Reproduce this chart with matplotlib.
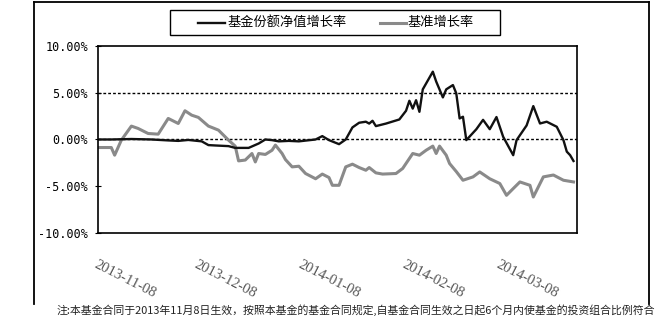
import matplotlib
matplotlib.use('Agg')
import matplotlib.pyplot as plt
from matplotlib.lines import Line2D
from matplotlib.patches import Rectangle
import pandas as pd

plt.rcParams['font.family'] = ['Noto Sans CJK SC', 'DejaVu Sans']
plt.rcParams['axes.unicode_minus'] = False

# 数据: 自 2013-11-08 起的天数, 以及两条增长率曲线 (%)
start = pd.Timestamp('2013-11-08')
end = pd.Timestamp('2014-03-31')

fund_days = [0, 4, 10, 16, 21, 24, 27, 31, 33, 35, 39, 41, 45, 48, 50, 52, 54, 57,
             60, 65, 67, 69, 72, 74, 76, 78, 80, 81, 82, 83, 86, 90, 92, 93, 94, 95,
             96, 97, 100, 101, 103, 104, 106, 107, 108, 109, 110, 113, 115, 117, 119,
             121, 124, 125, 128, 130, 132, 134, 137, 139, 140, 141, 142]
fund_vals = [0.0, 0.0, 0.05, 0.0, -0.1, -0.15, -0.05, -0.2, -0.6, -0.64, -0.71, -0.9,
             -0.9, -0.43, 0.0, -0.07, -0.2, -0.15, -0.2, 0.0, 0.36, -0.07, -0.5, 0.0,
             1.29, 1.79, 1.9, 1.7, 2.0, 1.43, 1.7, 2.14, 3.07, 4.14, 3.3, 4.2, 2.96,
             5.36, 7.25, 6.2, 4.5, 5.36, 5.82, 4.93, 2.25, 2.43, -0.07, 1.1, 2.1, 1.1,
             2.4, 0.29, -1.68, -0.07, 1.5, 3.57, 1.71, 1.9, 1.36, -0.07, -1.3, -1.68,
             -2.3]

bench_days = [0, 4, 5, 7, 10, 12, 15, 18, 21, 22, 24, 26, 28, 30, 33, 34, 36, 39, 41,
              42, 44, 46, 47, 48, 50, 52, 53, 55, 56, 58, 60, 62, 65, 67, 69, 70, 72,
              74, 76, 78, 80, 81, 83, 85, 89, 91, 94, 96, 98, 100, 101, 102, 104, 105,
              107, 109, 112, 114, 117, 120, 122, 124, 126, 129, 130, 133, 136, 139, 142]
bench_vals = [-0.86, -0.86, -1.68, -0.07, 1.43, 1.18, 0.64, 0.57, 2.25, 2.07, 1.71,
              3.07, 2.6, 2.36, 1.43, 1.29, 1.0, -0.07, -0.71, -2.29, -2.2, -1.5, -2.4,
              -1.5, -1.6, -1.15, -0.6, -1.5, -2.15, -2.93, -2.86, -3.64, -4.2, -3.7,
              -4.07, -4.9, -4.9, -2.93, -2.64, -3.0, -3.29, -3.0, -3.57, -3.7, -3.64,
              -3.1, -1.5, -1.68, -1.15, -0.71, -1.5, -0.71, -1.68, -2.57, -3.43, -4.36,
              -4.0, -3.47, -4.2, -4.71, -5.97, -5.25, -4.54, -4.9, -6.15, -4.0, -3.8,
              -4.36, -4.54]

tick_dates = ['2013-11-08', '2013-12-08', '2014-01-08', '2014-02-08', '2014-03-08']
y_ticks = [-10, -5, 0, 5, 10]
y_labels = ['-10.00%', '-5.00%', '0.00%', '5.00%', '10.00%']

legend_labels = ['基金份额净值增长率', '基准增长率']
note = ('注:本基金合同于2013年11月8日生效，按照本基金的基金合同规定,'
        '自基金合同生效之日起6个月内使基金的投资组合比例符合')

W, H = 657, 317


def fx(px):
    return px / W


def fy(py):
    return 1 - py / H


fund_x = start + pd.to_timedelta(fund_days, unit='D')
bench_x = start + pd.to_timedelta(bench_days, unit='D')

fig = plt.figure(figsize=(6.57, 3.17), dpi=100)
ax = fig.add_axes([0.149, 0.265, 0.729, 0.590])

ax.plot(bench_x, bench_vals, color='#8a8a8a', lw=2.2, solid_joinstyle='round')
ax.plot(fund_x, fund_vals, color='#111111', lw=1.7, solid_joinstyle='round')

ax.set_xlim(start, end)
ax.set_ylim(-10, 10)

# 虚线网格
for yv in [5, 0]:
    ax.axhline(yv, color='black', lw=1.0, ls=(0, (2, 1.5)), zorder=0)

ax.set_yticks(y_ticks)
ax.set_yticklabels(y_labels, family=['DejaVu Sans Mono'], fontsize=8.5)
ax.tick_params(axis='y', direction='inout', length=4, width=0.8, pad=5)

ticks = pd.to_datetime(tick_dates)
ax.set_xticks(ticks)
ax.set_xticklabels(tick_dates, rotation=-27, ha='left', va='top', rotation_mode='anchor',
                   family=['Liberation Serif'], fontsize=10.5, color='#555555')
ax.tick_params(axis='x', length=0, pad=18)
ax.set_xticks([ticks[1], ticks[3]], minor=True)
ax.tick_params(axis='x', which='minor', direction='in', length=4, width=0.8)

for s in ax.spines.values():
    s.set_linewidth(1.2)

# 图例 (手工绘制的方框)
fig.add_artist(Rectangle((fx(170), fy(35)), fx(330), 25 / H, transform=fig.transFigure,
                         facecolor='white', edgecolor='black', lw=1.0))
fig.add_artist(Line2D([fx(198), fx(225)], [fy(22.5)] * 2, color='#111111', lw=1.7))
fig.text(fx(227), fy(22.5), legend_labels[0], ha='left', va='center', fontsize=9.5)
fig.add_artist(Line2D([fx(380), fx(406)], [fy(22.5)] * 2, color='#8a8a8a', lw=2.2))
fig.text(fx(408), fy(22.5), legend_labels[1], ha='left', va='center', fontsize=9.5)

# 外框
fig.add_artist(Line2D([fx(33.5)] * 2, [fy(304), fy(1.5)], color='black', lw=1.3))
fig.add_artist(Line2D([fx(648.5)] * 2, [fy(304), fy(1.5)], color='black', lw=1.3))
fig.add_artist(Line2D([fx(33.5), fx(648.5)], [fy(1.5)] * 2, color='black', lw=1.3))

fig.text(fx(57), fy(316), note, ha='left', va='bottom', fontsize=7.85, color='#222222')

fig.savefig('out.png', dpi=100)
